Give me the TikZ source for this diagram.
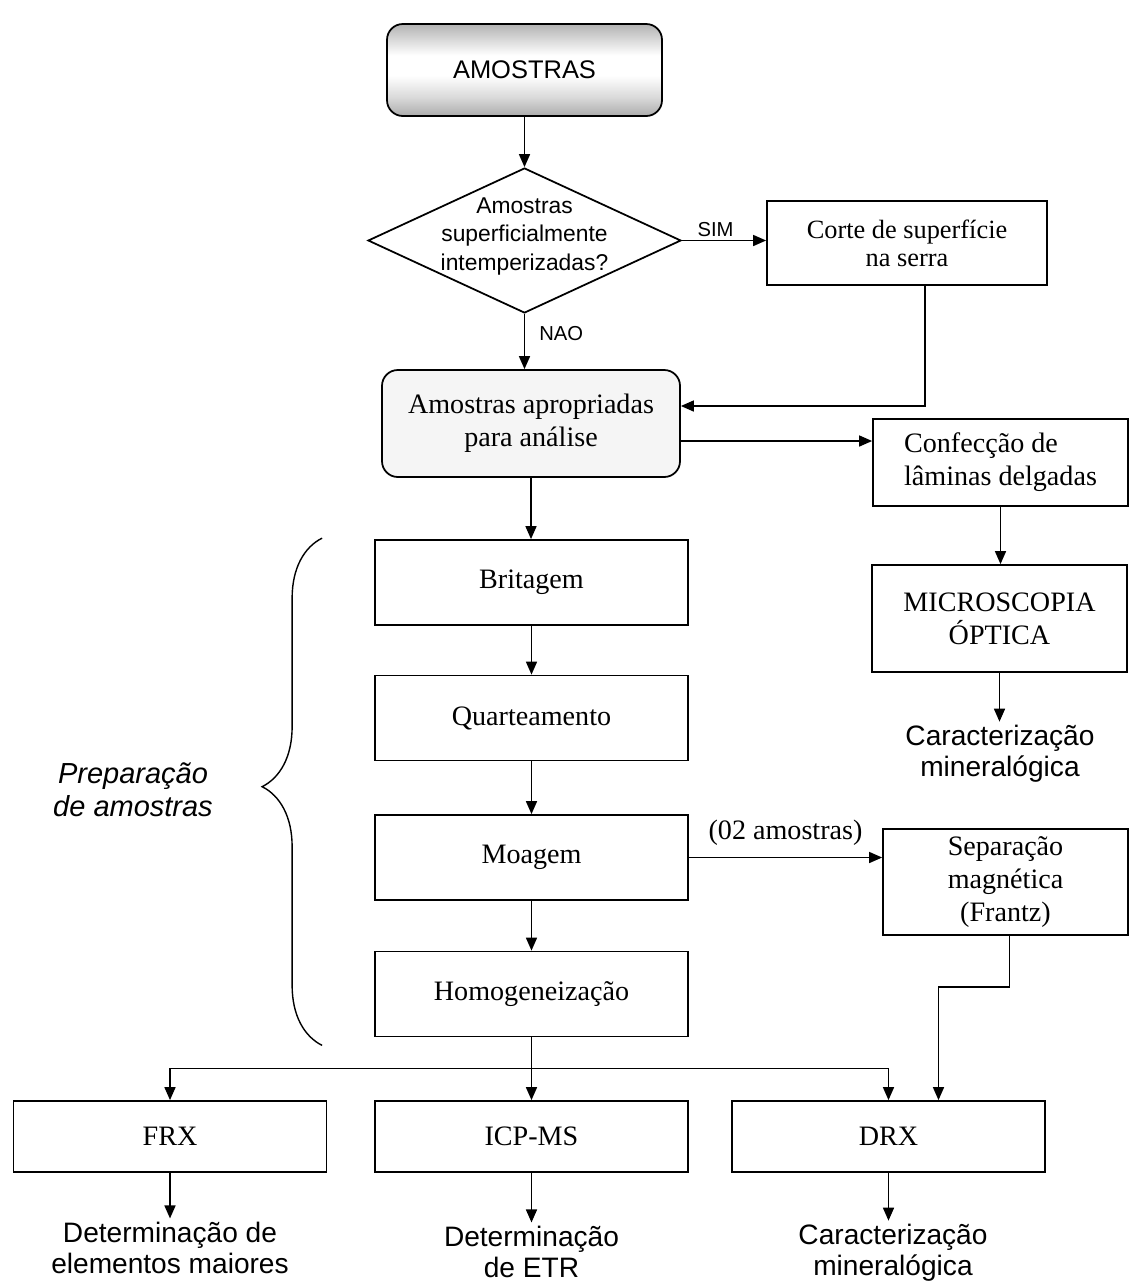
\documentclass[tikz,border=0pt]{standalone}
\usepackage{fontspec}
\setmainfont{Liberation Serif}
\setsansfont{Liberation Sans}
\usetikzlibrary{arrows.meta,positioning,calc,decorations.pathreplacing,shapes.geometric}
\pgfdeclareverticalshading{topshade}{100bp}{color(0bp)=(gray!65); color(25bp)=(gray!65);
  color(35bp)=(gray!30); color(47bp)=(white); color(58bp)=(white); color(75bp)=(gray!60); color(100bp)=(gray!60)}

\begin{document}
\begin{tikzpicture}[
  x=0.02cm, y=-0.02cm,
  font=\fontsize{16}{18.7}\selectfont,
  pbox/.style={draw, line width=1pt, align=center, inner sep=2pt},
  rbox/.style={pbox, rounded corners=9pt},
  dbox/.style={draw, line width=1pt, shape=diamond, inner sep=0pt},
  captxt/.style={font=\sffamily\fontsize{16}{17.5}\selectfont, align=center, inner sep=2pt},
  lab/.style={font=\sffamily\fontsize{11.5}{13}\selectfont, inner sep=2pt},
  arr/.style={line width=0.9pt, -{Triangle[length=2.6mm,width=2.2mm]}},
]
\def\u{0.02} % 1 px
\useasboundingbox (0,0) rectangle (1131,1282);
% top part
\node[rbox, minimum width=275*\u cm, minimum height=92*\u cm, shading=topshade,
  font=\sffamily\fontsize{14.5}{17}\selectfont] (amostras) at (524.5,70) {AMOSTRAS};
\node[dbox, minimum width=313*\u cm, minimum height=145*\u cm] (quest) at (524.5,240.5) {};
\node[captxt, font=\sffamily\fontsize{13}{16.4}\selectfont] (questtxt) at ($(quest.center)+(0,-4)$)
  {Amostras\\superficialmente\\intemperizadas?};
\node[pbox, minimum width=280*\u cm, minimum height=84*\u cm,
  font=\fontsize{15}{16}\selectfont] (corte) at (907,243) {Corte de superfície\\na serra};
\node[rbox, fill=gray!8, minimum width=298*\u cm, minimum height=107*\u cm] (aprop) at (531,423.5)
  {Amostras apropriadas\\para análise};
\node[pbox, align=left, minimum width=255*\u cm, minimum height=87*\u cm] (confec) at (1000.5,462.5)
  {Confecção de\\lâminas delgadas};
\node[pbox, minimum width=255*\u cm, minimum height=107*\u cm] (micro) at (999.5,618.5) {MICROSCOPIA\\ÓPTICA};
\node[captxt] (carmin) at (1000,754) {Caracterização\\mineralógica};
% preparation steps
\foreach \n/\y/\t in {brit/582.5/Britagem, quart/718/Quarteamento, moag/857.5/Moagem, homog/994/Homogeneização}
  \node[pbox, minimum width=313*\u cm, minimum height=85*\u cm] (\n) at (531.5,\y) {\t};
\node[pbox, minimum width=245*\u cm, minimum height=106*\u cm] (separ) at (1005.5,882)
  {Separação\\magnética\\(Frantz)};
% analyses
\foreach \n/\x/\t in {frx/170/FRX, icp/531.5/ICP-MS, drx/888.5/DRX}
  \node[pbox, minimum width=313*\u cm, minimum height=71*\u cm] (\n) at (\x,1136.5) {\t};
\node[captxt] (detmaj) at (170,1248) {Determinação de\\elementos maiores};
\node[captxt] (detetr) at (531.5,1252) {Determinação\\de ETR};
\node[captxt] (carmin2) at (893,1253) {Caracterização\\mineralógica};
% brace
\draw[line width=0.8pt, decorate, decoration={brace, amplitude=1.2cm, aspect=0.51}]
  ($(homog.south west)+(-52,8)$) -- ($(brit.north west)+(-52,-1)$);
\node[captxt, font=\sffamily\itshape\fontsize{16.5}{18.7}\selectfont] (prep) at (133,790) {Preparação\\de amostras};
% connectors
\draw[arr] (amostras) -- (quest);
\draw[arr] (quest.east) -- node[lab, above, pos=0.4]{SIM} (quest.east -| corte.west);
\draw[arr] (quest.south) -- node[lab, right=6pt, pos=0.35]{NAO} (quest.south |- aprop.north);
\draw[arr] ($(corte.south)+(18,0)$) |- ($(aprop.east)+(0,-17.5)$);
\coordinate (aprop-out) at ($(aprop.east)+(0,17.5)$);
\draw[arr] (aprop-out) -- (aprop-out -| confec.west);
\draw[arr] (confec.south) -- (confec.south |- micro.north);
\draw[arr] (micro.south) -- (micro.south |- carmin.north);
\draw[arr] (aprop.south) -- (aprop.south |- brit.north);
\foreach \a/\b in {brit/quart, quart/moag, moag/homog}
  \draw[arr] (\a) -- (\b);
\draw[arr] (moag.east) -- node[above=3pt]{(02 amostras)} (moag.east -| separ.west);
\draw[arr] ($(separ.south)+(4,0)$) |- ($(drx.north)+(50,-113)$) -- ($(drx.north)+(50,0)$);
\draw[arr] (homog) -- (icp);
\coordinate (bus) at ($(homog.south)+(0,31)$);
\draw[arr] (bus) -| (frx.north);
\draw[arr] (bus) -| (drx.north);
\foreach \a/\b in {frx/detmaj, icp/detetr, drx/carmin2}
  \draw[arr] (\a.south) -- (\a.south |- \b.north);
\end{tikzpicture}
\end{document}
